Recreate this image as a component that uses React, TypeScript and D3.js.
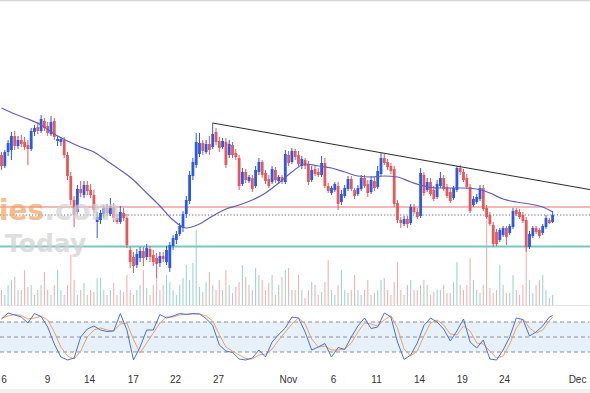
import { useEffect, useRef } from 'react';
import * as d3 from 'd3';

const W = 590;
const H = 393;

// [open, high, low, close]
const candles: [number, number, number, number][] = [
  [145, 148, 130, 134], [134, 150, 132, 148], [148, 160, 144, 157], [150, 168, 140, 164], [164, 169, 150, 154],
  [154, 164, 151, 160], [160, 165, 153, 156], [158, 163, 150, 153], [155, 160, 135, 151], [151, 172, 149, 169],
  [168, 175, 164, 172], [173, 178, 166, 169], [169, 185, 167, 181], [179, 182, 169, 172], [174, 178, 164, 167],
  [166, 184, 164, 178], [179, 182, 160, 163], [159, 164, 154, 161], [158, 163, 154, 161], [160, 163, 142, 145],
  [145, 148, 120, 124], [124, 128, 95, 100], [100, 104, 73, 85], [88, 115, 86, 111], [111, 119, 103, 107],
  [105, 119, 102, 115], [115, 119, 105, 109], [110, 116, 102, 105], [105, 110, 87, 90], [78, 88, 62, 83],
  [80, 90, 76, 87], [86, 95, 82, 92], [92, 96, 84, 87], [86, 102, 84, 94], [93, 97, 78, 82],
  [82, 86, 76, 78], [78, 94, 76, 88], [87, 92, 79, 82], [82, 86, 52, 55], [50, 53, 32, 38],
  [43, 48, 27, 34], [35, 51, 32, 46], [42, 53, 38, 49], [49, 53, 34, 42], [43, 56, 40, 52],
  [51, 54, 38, 43], [45, 50, 34, 38], [42, 47, 22, 36], [37, 48, 33, 44], [44, 48, 38, 41],
  [38, 54, 35, 50], [32, 58, 28, 55], [54, 65, 50, 62], [60, 69, 56, 66], [66, 77, 64, 74],
  [72, 89, 68, 86], [86, 104, 82, 100], [99, 129, 96, 125], [124, 142, 120, 138], [135, 167, 132, 158],
  [146, 167, 143, 157], [157, 160, 145, 149], [148, 160, 146, 156], [156, 164, 145, 150], [153, 177, 151, 166],
  [168, 172, 155, 158], [159, 163, 148, 152], [153, 162, 151, 159], [158, 162, 132, 135], [145, 160, 142, 156],
  [155, 158, 142, 145], [147, 151, 140, 143], [142, 145, 110, 114], [116, 132, 114, 128], [128, 131, 117, 120],
  [119, 125, 117, 123], [122, 125, 108, 111], [114, 134, 112, 130], [128, 142, 125, 138], [138, 140, 122, 125],
  [127, 130, 116, 119], [121, 125, 112, 114], [118, 134, 116, 131], [130, 133, 117, 120], [119, 125, 116, 123],
  [123, 125, 116, 118], [118, 150, 116, 146], [145, 149, 134, 137], [138, 152, 136, 149], [149, 151, 140, 143],
  [145, 149, 134, 136], [134, 144, 131, 141], [140, 142, 131, 134], [136, 139, 115, 118], [120, 134, 118, 130],
  [131, 134, 124, 126], [128, 132, 123, 125], [125, 144, 123, 137], [137, 142, 112, 114], [114, 117, 107, 109],
  [107, 114, 105, 112], [110, 118, 108, 116], [114, 118, 90, 96], [98, 110, 95, 106], [104, 115, 102, 112],
  [111, 124, 109, 121], [121, 124, 109, 111], [110, 112, 101, 104], [106, 115, 104, 112], [111, 125, 109, 122],
  [122, 125, 112, 114], [116, 120, 103, 107], [108, 124, 106, 120], [119, 123, 109, 112], [113, 134, 111, 129],
  [126, 147, 124, 142], [142, 146, 135, 137], [138, 141, 130, 133], [134, 137, 126, 129], [131, 134, 93, 96],
  [97, 100, 77, 80], [80, 83, 72, 77], [76, 84, 74, 81], [81, 84, 72, 76], [77, 96, 75, 93],
  [93, 96, 86, 88], [88, 92, 81, 83], [84, 132, 82, 127], [125, 128, 104, 107], [110, 122, 108, 118],
  [118, 122, 104, 106], [110, 114, 99, 101], [103, 120, 101, 116], [114, 128, 112, 122], [122, 125, 109, 111],
  [113, 116, 102, 104], [108, 112, 97, 99], [102, 114, 100, 112], [110, 134, 108, 132], [132, 135, 125, 128],
  [128, 131, 118, 120], [122, 126, 111, 113], [113, 116, 87, 89], [95, 104, 93, 101], [98, 106, 96, 103],
  [101, 115, 99, 112], [112, 115, 89, 91], [92, 95, 81, 83], [85, 88, 74, 76], [75, 78, 53, 56],
  [68, 71, 54, 56], [60, 72, 58, 70], [65, 74, 63, 72], [72, 74, 55, 63], [67, 76, 65, 74],
  [73, 92, 71, 89], [90, 92, 84, 86], [88, 91, 81, 83], [85, 88, 77, 79], [80, 83, 48, 53],
  [53, 69, 51, 66], [64, 74, 62, 72], [72, 74, 66, 68], [70, 72, 62, 64], [67, 76, 65, 74],
  [73, 85, 71, 82], [80, 82, 76, 77], [78, 89, 77, 85],
];

const volumes = [
  15, 10, 20, 25, 28, 15, 15, 35, 18, 20, 10, 15, 20, 33, 15, 10, 20, 35, 15, 10,
  20, 50, 25, 10, 15, 22, 10, 15, 13, 27, 27, 15, 10, 15, 22, 10, 15, 13, 30, 15,
  10, 15, 20, 35, 17, 10, 20, 30, 15, 20, 30, 23, 15, 10, 20, 27, 40, 25, 42, 75,
  18, 13, 23, 33, 20, 15, 25, 15, 35, 20, 12, 18, 23, 40, 28, 20, 15, 37, 30, 25,
  15, 22, 30, 10, 20, 28, 35, 37, 15, 15, 30, 15, 7, 15, 23, 20, 10, 13, 23, 45,
  15, 10, 20, 35, 15, 12, 15, 30, 15, 10, 15, 25, 10, 12, 15, 25, 27, 15, 10, 23,
  43, 15, 10, 20, 25, 15, 15, 20, 25, 20, 10, 13, 15, 15, 20, 12, 12, 23, 43, 20,
  15, 20, 47, 25, 15, 12, 20, 85, 17, 12, 15, 40, 20, 12, 12, 30, 15, 10, 20, 65,
  25, 12, 20, 25, 30, 15, 7, 10,
];

// moving average, one value every 4 candles
const maStep = 4;
const maValues = [
  192, 186, 181, 175, 166, 159, 153, 148, 139, 130, 120, 107, 94, 80, 72, 76, 84, 91, 95, 100, 107,
  117, 128, 136, 134, 132, 128, 124, 123, 124, 123, 118, 114, 112, 112, 112, 111, 107, 101, 98, 96, 93, 88,
];

// stochastic, one value every 2 candles
const stochStep = 2;
const stochK = [
  86, 98, 94, 90, 78, 97, 91, 70, 36, 10, 4, 8, 50, 66, 72, 64, 61, 62, 97, 64,
  4, 30, 64, 64, 95, 88, 92, 97, 95, 97, 96, 87, 73, 34, 22, 19, 6, 4, 8, 24,
  10, 40, 55, 68, 90, 88, 60, 24, 30, 37, 10, 29, 25, 50, 72, 88, 67, 70, 98, 90,
  40, 5, 14, 38, 73, 88, 80, 66, 42, 62, 86, 40, 28, 44, 6, 4, 24, 50, 88, 85,
  52, 60, 72, 90, 93,
];
const stochD = [
  88, 92, 95, 93, 86, 88, 92, 84, 60, 30, 12, 6, 22, 50, 64, 68, 64, 62, 76, 78,
  45, 18, 38, 58, 78, 90, 90, 94, 96, 96, 96, 92, 82, 55, 30, 22, 14, 7, 6, 14,
  16, 26, 44, 60, 76, 88, 76, 46, 30, 32, 24, 24, 26, 38, 60, 78, 76, 72, 84, 93,
  68, 26, 12, 22, 52, 78, 84, 74, 56, 54, 72, 62, 38, 36, 22, 8, 12, 36, 68, 86,
  68, 58, 64, 82, 90,
];
const stochLevels = [80, 50, 20];

const dayLabels = ['6', '9', '14', '17', '22', '27', 'Nov', '6', '11', '14', '19', '24', 'Dec'];
const dayLabelIdx = [0.6, 13.8, 26.5, 39.8, 52.6, 65.6, 86.8, 100.5, 113.5, 126.5, 139.5, 152.3, 174.4];

const resistance = 93;
const support = 53.5;
const trendFrom: [number, number] = [64, 177];
const trendTo: [number, number] = [179, 110];

export default function App() {
  const svgRef = useRef<SVGSVGElement>(null);

  useEffect(() => {
    if (!svgRef.current) return;
    document.body.style.margin = '0';

    const svg = d3.select(svgRef.current);
    svg.selectAll('*').remove();

    const last = candles.length - 1;
    const x = d3.scaleLinear().domain([0, last]).range([1.5, 552.6]);
    const y = d3.scaleLinear().domain([20, 200]).range([280, 100]);
    const yVol = d3.scaleLinear().domain([0, 100]).range([305, 205]);
    const yStoch = d3.scaleLinear().domain([0, 100]).range([362, 312]);

    const upColor = '#2b58e6';
    const downColor = '#e4585a';

    svg.append('rect').attr('width', W).attr('height', H).attr('fill', '#fff');

    // frame lines
    svg.append('line').attr('x1', 0).attr('x2', W).attr('y1', 0.5).attr('y2', 0.5).attr('stroke', '#d6d6d6');
    svg.append('line').attr('x1', 0).attr('x2', W).attr('y1', 1.5).attr('y2', 1.5).attr('stroke', '#f0f0f0');
    svg.append('line').attr('x1', 0).attr('x2', W).attr('y1', 305.5).attr('y2', 305.5).attr('stroke', '#e4e4e4');
    svg.append('rect').attr('x', 0).attr('y', 389).attr('width', W).attr('height', 4).attr('fill', '#f1f1f1');

    // volume
    svg
      .append('g')
      .selectAll('line')
      .data(volumes)
      .join('line')
      .attr('x1', (_, i) => x(i))
      .attr('x2', (_, i) => x(i))
      .attr('y1', yVol(0))
      .attr('y2', (d) => yVol(d))
      .attr('stroke', (_, i) => (candles[i][3] >= candles[i][0] ? '#9ed6cd' : '#f0b3b3'))
      .attr('stroke-width', 1.1);

    // horizontal levels
    const hline = (v: number, color: string, width: number, dash?: string) => {
      const l = svg
        .append('line')
        .attr('x1', 0)
        .attr('x2', W)
        .attr('y1', y(v))
        .attr('y2', y(v))
        .attr('stroke', color)
        .attr('stroke-width', width);
      if (dash) l.attr('stroke-dasharray', dash);
    };
    hline(resistance, '#e57272', 1.2);
    hline(support, '#74c9bc', 2);
    hline(candles[last][3], '#5d6579', 1, '1.2,2');

    // candles
    const cg = svg.append('g');
    cg.selectAll('line')
      .data(candles)
      .join('line')
      .attr('x1', (_, i) => x(i))
      .attr('x2', (_, i) => x(i))
      .attr('y1', (d) => y(d[1]))
      .attr('y2', (d) => y(d[2]))
      .attr('stroke', (d) => (d[3] >= d[0] ? upColor : downColor))
      .attr('stroke-width', 1);
    cg.selectAll('rect')
      .data(candles)
      .join('rect')
      .attr('x', (_, i) => x(i) - 1.4)
      .attr('width', 2.8)
      .attr('y', (d) => y(Math.max(d[0], d[3])))
      .attr('height', (d) => Math.max(1, Math.abs(y(d[0]) - y(d[3]))))
      .attr('fill', (d) => (d[3] >= d[0] ? upColor : downColor));

    // moving average
    const maLine = d3
      .line<number>()
      .x((_, k) => x(Math.min(k * maStep, last)))
      .y((d) => y(d))
      .curve(d3.curveMonotoneX);
    svg.append('path').attr('d', maLine(maValues)).attr('fill', 'none').attr('stroke', '#5f5fbd').attr('stroke-width', 1.2);

    // trendline
    svg
      .append('line')
      .attr('x1', x(trendFrom[0]))
      .attr('y1', y(trendFrom[1]))
      .attr('x2', x(trendTo[0]))
      .attr('y2', y(trendTo[1]))
      .attr('stroke', '#2a2a2a')
      .attr('stroke-width', 1);

    // watermark
    const wm = svg
      .append('g')
      .attr('opacity', 0.7)
      .attr('font-family', "'DejaVu Sans', sans-serif")
      .attr('font-weight', 'bold');
    const t1 = wm.append('text').attr('x', -1).attr('y', 220).attr('font-size', 28);
    t1.append('tspan').attr('fill', '#f5a25c').text('ies');
    t1.append('tspan').attr('fill', '#d2d2d2').text('.com');
    wm.append('text').attr('x', 5).attr('y', 252).attr('font-size', 25).attr('fill', '#cfcfcf').text('Today');

    // stochastic
    svg
      .append('rect')
      .attr('x', 0)
      .attr('width', W)
      .attr('y', yStoch(80))
      .attr('height', yStoch(20) - yStoch(80))
      .attr('fill', '#e7f1fc');
    stochLevels.forEach((lv) => {
      svg
        .append('line')
        .attr('x1', 0)
        .attr('x2', W)
        .attr('y1', yStoch(lv))
        .attr('y2', yStoch(lv))
        .attr('stroke', '#8b8f98')
        .attr('stroke-dasharray', '4,3');
    });
    const stLine = d3
      .line<number>()
      .x((_, k) => x(Math.min(k * stochStep, last)))
      .y((d) => yStoch(d));
    svg.append('path').attr('d', stLine(stochD)).attr('fill', 'none').attr('stroke', '#f2a05a').attr('stroke-width', 1);
    svg.append('path').attr('d', stLine(stochK)).attr('fill', 'none').attr('stroke', '#4a6ee0').attr('stroke-width', 1);

    // date axis
    const axis = svg
      .append('g')
      .attr('transform', 'translate(0,370)')
      .call(
        d3
          .axisBottom(x)
          .tickValues(dayLabelIdx)
          .tickFormat((_, i) => dayLabels[i])
          .tickSize(0)
          .tickPadding(6)
      );
    axis.select('.domain').remove();
    axis.selectAll('text').attr('font-family', "'Liberation Sans', Arial, sans-serif").attr('font-size', 10).attr('fill', '#333');
  }, []);

  return <svg ref={svgRef} width={W} height={H} style={{ display: 'block' }} />;
}
